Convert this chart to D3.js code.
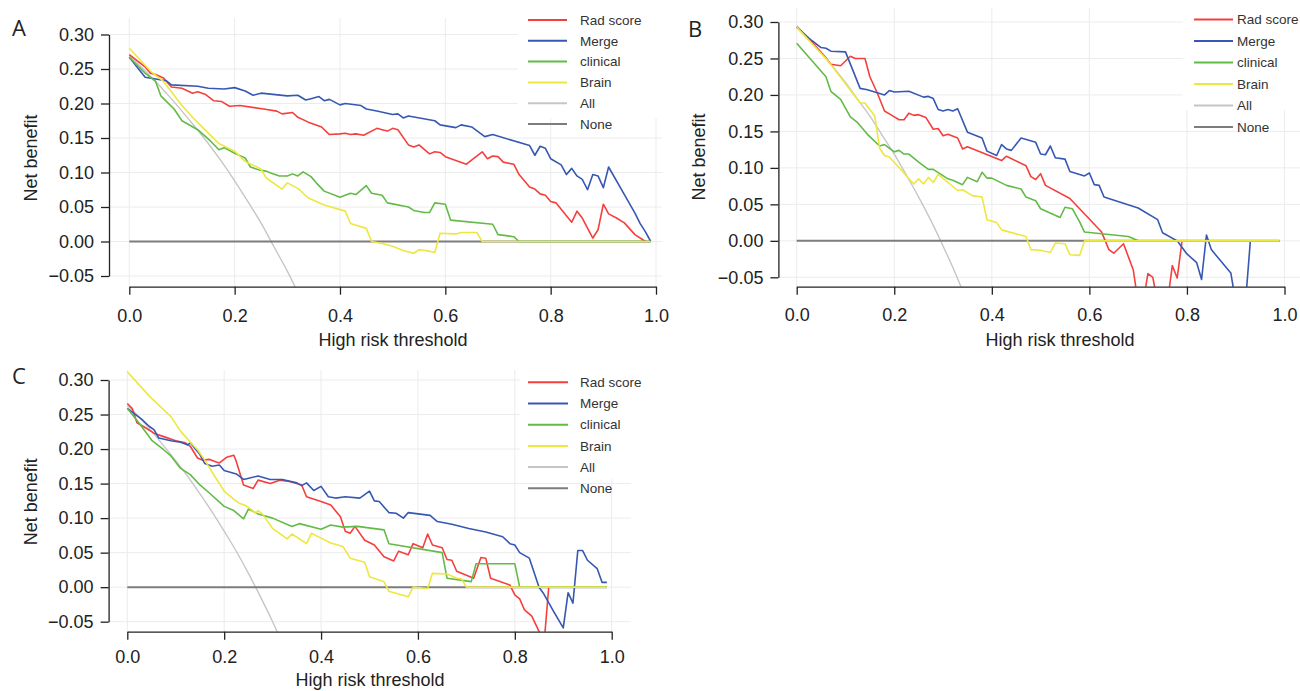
<!DOCTYPE html>
<html>
<head>
<meta charset="utf-8">
<script src="https://cdn.jsdelivr.net/npm/d3@7"></script>
<style>
  body { margin: 0; background: #fff; }
  svg { display: block; font-family: "Liberation Sans", Arial, sans-serif; }
</style>
</head>
<body>
<div id="chart"></div>
<script>
// decision curves, each point is [threshold, net benefit]

// panel A
var aRad = [[0,0.271],[0.03,0.253],[0.04,0.244],[0.05,0.242],[0.065,0.237],[0.08,0.224],[0.10,0.222],[0.12,0.215],[0.13,0.217],[0.145,0.213],[0.16,0.204],[0.175,0.203],[0.19,0.196],[0.21,0.197],[0.255,0.192],[0.28,0.189],[0.29,0.185],[0.31,0.187],[0.32,0.180],[0.34,0.173],[0.365,0.166],[0.38,0.155],[0.40,0.156],[0.41,0.157],[0.42,0.155],[0.43,0.156],[0.445,0.154],[0.47,0.164],[0.48,0.162],[0.49,0.160],[0.50,0.164],[0.51,0.162],[0.53,0.140],[0.54,0.137],[0.55,0.140],[0.57,0.127],[0.58,0.130],[0.59,0.129],[0.60,0.123],[0.64,0.112],[0.67,0.130],[0.68,0.120],[0.69,0.124],[0.70,0.123],[0.71,0.115],[0.73,0.112],[0.74,0.097],[0.76,0.079],[0.77,0.076],[0.78,0.069],[0.79,0.067],[0.80,0.058],[0.81,0.056],[0.84,0.028],[0.85,0.044],[0.86,0.034],[0.88,0.005],[0.89,0.017],[0.90,0.054],[0.91,0.040],[0.925,0.034],[0.94,0.027],[0.96,0.010],[0.98,0]];
var aMerge = [[0,0.267],[0.03,0.238],[0.07,0.233],[0.08,0.227],[0.13,0.225],[0.15,0.222],[0.18,0.221],[0.20,0.223],[0.22,0.218],[0.235,0.212],[0.25,0.215],[0.30,0.211],[0.32,0.212],[0.335,0.205],[0.345,0.207],[0.36,0.210],[0.37,0.204],[0.38,0.206],[0.40,0.198],[0.41,0.200],[0.44,0.197],[0.45,0.192],[0.47,0.189],[0.50,0.184],[0.51,0.185],[0.52,0.179],[0.53,0.182],[0.58,0.175],[0.59,0.169],[0.62,0.165],[0.63,0.169],[0.65,0.166],[0.675,0.152],[0.69,0.155],[0.76,0.139],[0.77,0.125],[0.78,0.138],[0.79,0.135],[0.80,0.120],[0.82,0.111],[0.83,0.097],[0.84,0.106],[0.85,0.095],[0.86,0.090],[0.87,0.075],[0.88,0.097],[0.89,0.095],[0.90,0.078],[0.91,0.108],[0.94,0.068],[0.96,0.041],[0.97,0.026],[0.98,0.014],[0.99,0]];
var aClinical = [[0,0.267],[0.03,0.244],[0.05,0.232],[0.06,0.211],[0.085,0.192],[0.10,0.175],[0.13,0.162],[0.155,0.145],[0.17,0.133],[0.18,0.136],[0.20,0.128],[0.22,0.121],[0.23,0.108],[0.245,0.104],[0.26,0.102],[0.27,0.099],[0.285,0.095],[0.30,0.095],[0.31,0.098],[0.32,0.095],[0.33,0.101],[0.345,0.094],[0.355,0.085],[0.37,0.073],[0.40,0.064],[0.42,0.070],[0.43,0.068],[0.45,0.081],[0.46,0.070],[0.48,0.067],[0.49,0.056],[0.53,0.050],[0.54,0.045],[0.56,0.042],[0.57,0.042],[0.58,0.056],[0.60,0.054],[0.61,0.031],[0.69,0.025],[0.70,0.010],[0.73,0.007],[0.74,0],[0.99,0]];
var aBrain = [[0,0.280],[0.04,0.247],[0.065,0.232],[0.10,0.197],[0.12,0.180],[0.15,0.157],[0.17,0.142],[0.20,0.131],[0.22,0.116],[0.25,0.105],[0.26,0.092],[0.29,0.076],[0.30,0.085],[0.32,0.077],[0.34,0.063],[0.37,0.053],[0.41,0.044],[0.42,0.026],[0.45,0.019],[0.46,0],[0.48,-0.003],[0.50,-0.007],[0.52,-0.013],[0.54,-0.017],[0.55,-0.012],[0.57,-0.014],[0.58,-0.016],[0.59,0.012],[0.62,0.011],[0.63,0.013],[0.66,0.013],[0.67,0],[0.99,0]];
var aAll = [[0,0.270],[0.025,0.251],[0.05,0.232],[0.075,0.211],[0.10,0.189],[0.125,0.166],[0.15,0.142],[0.175,0.116],[0.20,0.088],[0.225,0.058],[0.25,0.027],[0.275,-0.008],[0.30,-0.043],[0.325,-0.082]];

// panel B
var bRad = [[0,0.293],[0.02,0.280],[0.04,0.266],[0.06,0.251],[0.07,0.242],[0.09,0.240],[0.11,0.253],[0.12,0.250],[0.14,0.250],[0.15,0.225],[0.165,0.203],[0.18,0.178],[0.195,0.172],[0.21,0.166],[0.22,0.166],[0.23,0.175],[0.24,0.172],[0.25,0.173],[0.265,0.169],[0.28,0.153],[0.29,0.154],[0.30,0.144],[0.31,0.146],[0.33,0.141],[0.34,0.126],[0.35,0.129],[0.42,0.110],[0.43,0.116],[0.47,0.103],[0.48,0.088],[0.49,0.084],[0.50,0.092],[0.51,0.076],[0.56,0.058],[0.60,0.030],[0.625,0.012],[0.64,-0.012],[0.65,-0.017],[0.67,-0.004],[0.69,-0.040],[0.70,-0.085],[0.71,-0.085],[0.72,-0.045],[0.73,-0.050],[0.74,-0.085],[0.76,-0.085],[0.77,-0.034],[0.78,-0.051],[0.79,0]];
var bMerge = [[0,0.293],[0.03,0.275],[0.05,0.265],[0.06,0.264],[0.07,0.260],[0.10,0.259],[0.13,0.209],[0.145,0.207],[0.18,0.200],[0.19,0.206],[0.20,0.204],[0.23,0.205],[0.26,0.197],[0.27,0.198],[0.28,0.195],[0.29,0.180],[0.30,0.178],[0.31,0.180],[0.32,0.178],[0.33,0.181],[0.35,0.149],[0.38,0.141],[0.39,0.123],[0.41,0.117],[0.42,0.132],[0.43,0.126],[0.44,0.124],[0.46,0.141],[0.49,0.135],[0.50,0.119],[0.51,0.118],[0.52,0.130],[0.53,0.114],[0.55,0.112],[0.56,0.095],[0.59,0.089],[0.60,0.093],[0.61,0.077],[0.62,0.076],[0.63,0.060],[0.70,0.045],[0.74,0.029],[0.75,0.011],[0.78,0],[0.80,-0.018],[0.82,-0.030],[0.83,-0.053],[0.84,0.008],[0.85,-0.012],[0.86,-0.020],[0.89,-0.044],[0.90,-0.085],[0.92,-0.085],[0.93,0],[0.99,0]];
var bClinical = [[0,0.271],[0.06,0.225],[0.07,0.205],[0.09,0.194],[0.11,0.170],[0.125,0.162],[0.145,0.146],[0.17,0.130],[0.18,0.132],[0.20,0.122],[0.21,0.124],[0.22,0.119],[0.23,0.119],[0.25,0.108],[0.27,0.098],[0.28,0.098],[0.31,0.085],[0.32,0.083],[0.34,0.077],[0.35,0.087],[0.37,0.081],[0.38,0.094],[0.39,0.086],[0.40,0.086],[0.43,0.076],[0.46,0.071],[0.47,0.060],[0.49,0.055],[0.50,0.044],[0.54,0.032],[0.55,0.046],[0.565,0.044],[0.58,0.026],[0.59,0.012],[0.68,0.006],[0.70,0],[0.99,0]];
var bBrain = [[0,0.293],[0.065,0.246],[0.13,0.189],[0.14,0.189],[0.16,0.171],[0.17,0.127],[0.18,0.117],[0.19,0.115],[0.24,0.078],[0.25,0.085],[0.26,0.078],[0.27,0.087],[0.28,0.080],[0.29,0.091],[0.33,0.069],[0.34,0.070],[0.36,0.062],[0.38,0.060],[0.39,0.029],[0.41,0.025],[0.42,0.015],[0.47,0.006],[0.48,-0.012],[0.50,-0.013],[0.52,-0.016],[0.53,-0.003],[0.55,-0.004],[0.56,-0.019],[0.58,-0.020],[0.59,0],[0.99,0]];
var bAll = [[0,0.295],[0.025,0.277],[0.05,0.258],[0.075,0.238],[0.10,0.217],[0.125,0.194],[0.15,0.171],[0.175,0.145],[0.20,0.119],[0.225,0.090],[0.25,0.060],[0.275,0.028],[0.30,-0.007],[0.325,-0.044],[0.35,-0.085]];

// panel C
var cRad = [[0,0.266],[0.01,0.259],[0.02,0.238],[0.035,0.232],[0.055,0.223],[0.075,0.218],[0.10,0.212],[0.12,0.209],[0.13,0.204],[0.145,0.187],[0.155,0.184],[0.17,0.185],[0.185,0.181],[0.19,0.180],[0.205,0.188],[0.22,0.191],[0.225,0.182],[0.24,0.148],[0.26,0.143],[0.27,0.155],[0.295,0.150],[0.315,0.155],[0.335,0.153],[0.36,0.148],[0.37,0.131],[0.40,0.124],[0.42,0.119],[0.44,0.102],[0.45,0.081],[0.46,0.078],[0.47,0.088],[0.49,0.068],[0.51,0.061],[0.53,0.044],[0.55,0.038],[0.56,0.052],[0.58,0.047],[0.59,0.063],[0.61,0.057],[0.62,0.077],[0.63,0.061],[0.65,0.057],[0.66,0.040],[0.67,0.039],[0.68,0.023],[0.715,0.013],[0.73,0.043],[0.74,0.042],[0.75,0.013],[0.79,0.003],[0.80,-0.011],[0.81,-0.017],[0.82,-0.033],[0.835,-0.042],[0.85,-0.064],[0.86,-0.085],[0.87,0]];
var cMerge = [[0,0.259],[0.03,0.243],[0.045,0.233],[0.055,0.228],[0.065,0.216],[0.09,0.212],[0.11,0.210],[0.125,0.206],[0.13,0.209],[0.15,0.192],[0.16,0.179],[0.175,0.175],[0.19,0.177],[0.20,0.169],[0.225,0.164],[0.24,0.156],[0.27,0.161],[0.295,0.156],[0.32,0.156],[0.35,0.151],[0.36,0.147],[0.37,0.151],[0.385,0.140],[0.40,0.146],[0.415,0.131],[0.43,0.129],[0.45,0.131],[0.48,0.129],[0.50,0.139],[0.51,0.125],[0.52,0.124],[0.54,0.108],[0.555,0.107],[0.57,0.100],[0.58,0.108],[0.625,0.104],[0.64,0.095],[0.67,0.091],[0.705,0.085],[0.74,0.080],[0.775,0.073],[0.79,0.063],[0.80,0.061],[0.81,0.050],[0.83,0.042],[0.85,0],[0.86,-0.010],[0.88,-0.035],[0.90,-0.059],[0.91,-0.008],[0.92,-0.023],[0.93,0.053],[0.94,0.053],[0.95,0.039],[0.97,0.027],[0.98,0.007],[0.99,0.007]];
var cClinical = [[0,0.259],[0.025,0.237],[0.05,0.213],[0.075,0.199],[0.09,0.190],[0.11,0.172],[0.13,0.163],[0.15,0.148],[0.17,0.136],[0.20,0.117],[0.22,0.111],[0.24,0.099],[0.25,0.113],[0.27,0.106],[0.30,0.100],[0.34,0.088],[0.355,0.092],[0.40,0.084],[0.42,0.090],[0.445,0.087],[0.475,0.088],[0.53,0.083],[0.54,0.063],[0.65,0.050],[0.66,0.013],[0.71,0.008],[0.72,0.034],[0.80,0.034],[0.81,0],[0.99,0]];
var cBrain = [[0,0.312],[0.045,0.277],[0.09,0.247],[0.11,0.226],[0.13,0.210],[0.145,0.199],[0.16,0.184],[0.18,0.161],[0.20,0.139],[0.22,0.127],[0.23,0.122],[0.245,0.118],[0.255,0.113],[0.265,0.107],[0.27,0.111],[0.28,0.105],[0.30,0.085],[0.33,0.070],[0.34,0.077],[0.37,0.063],[0.38,0.078],[0.40,0.071],[0.42,0.064],[0.445,0.059],[0.46,0.042],[0.49,0.036],[0.50,0.015],[0.53,0.008],[0.54,-0.006],[0.58,-0.014],[0.59,0],[0.62,-0.002],[0.63,0.020],[0.66,0.019],[0.68,0.013],[0.69,0.012],[0.70,0],[0.99,0]];
var cAll = [[0,0.263],[0.025,0.246],[0.05,0.226],[0.075,0.205],[0.10,0.183],[0.125,0.160],[0.15,0.135],[0.175,0.109],[0.20,0.081],[0.225,0.052],[0.25,0.020],[0.275,-0.014],[0.30,-0.050],[0.325,-0.089]];

var noneLine = [[0,0],[0.99,0]];

var legendNames = ["Rad score", "Merge", "clinical", "Brain", "All", "None"];
var legendColors = ["#f4403d", "#3658b4", "#62bb47", "#ede73f", "#c6c6c6", "#7d7d7d"];
var xTicks = [0, 0.2, 0.4, 0.6, 0.8, 1.0];
var yTicks = [-0.05, 0, 0.05, 0.10, 0.15, 0.20, 0.25, 0.30];

var svg = d3.select("#chart").append("svg")
    .attr("width", 1300)
    .attr("height", 691);

var panels = [
  {id: "A", curves: [aRad, aMerge, aClinical, aBrain, aAll],
   x0: 129.3, x1: 656, y30: 34.5, yNeg: 276, axisX: 109, axisY: 286.7, top: 18, right: 662,
   tickPad: 14.5, letter: [12, 36.4], ylab: [37, 158], xlab: [393, 346],
   legend: {x: 518, y: 0, w: 144, h: 118, lx0: 528, lx1: 567, tx: 580, ty: 20, dy: 20.8}},
  {id: "B", curves: [bRad, bMerge, bClinical, bBrain, bAll],
   x0: 796.7, x1: 1284.5, y30: 22, yNeg: 277.3, axisX: 778.4, axisY: 286.7, top: 8, right: 1300,
   tickPad: 14, letter: [688, 37], ylab: [705, 157], xlab: [1060, 346],
   legend: {x: 1183, y: 0, w: 117, h: 110, lx0: 1194, lx1: 1233, tx: 1237, ty: 19.5, dy: 21.5}},
  {id: "C", curves: [cRad, cMerge, cClinical, cBrain, cAll],
   x0: 127.3, x1: 611.7, y30: 380, yNeg: 621.7, axisX: 108.6, axisY: 631.7, top: 370, right: 631,
   tickPad: 10.5, letter: [12, 384], ylab: [37, 501.7], xlab: [370, 686],
   legend: {x: 520, y: 368, w: 113, h: 111, lx0: 528, lx1: 568, tx: 580, ty: 382.3, dy: 21.2}}
];

panels.forEach(drawPanel);

function drawPanel(p) {
  var x = d3.scaleLinear().domain([0, 1]).range([p.x0, p.x1]);
  var y = d3.scaleLinear().domain([-0.05, 0.30]).range([p.yNeg, p.y30]);

  var g = svg.append("g");

  // grid
  g.selectAll(".vgrid").data(xTicks).enter().append("line")
      .attr("x1", function(d) { return x(d); })
      .attr("x2", function(d) { return x(d); })
      .attr("y1", p.top).attr("y2", p.axisY)
      .attr("stroke", "#ececec").attr("stroke-width", 1);
  g.selectAll(".hgrid").data(yTicks).enter().append("line")
      .attr("x1", p.axisX).attr("x2", p.right)
      .attr("y1", function(d) { return y(d); })
      .attr("y2", function(d) { return y(d); })
      .attr("stroke", "#ececec").attr("stroke-width", 1);

  // legend background sits over the grid
  var L = p.legend;
  g.append("rect")
      .attr("x", L.x).attr("y", L.y).attr("width", L.w).attr("height", L.h)
      .attr("fill", "#fff");

  var clipId = "clip" + p.id;
  svg.append("clipPath").attr("id", clipId)
    .append("rect")
      .attr("x", p.axisX).attr("y", p.top)
      .attr("width", p.right - p.axisX).attr("height", p.axisY - p.top);

  var plot = g.append("g").attr("clip-path", "url(#" + clipId + ")");

  var line = d3.line()
      .x(function(d) { return x(d[0]); })
      .y(function(d) { return y(d[1]); });
  var smooth = d3.line()
      .curve(d3.curveMonotoneX)
      .x(function(d) { return x(d[0]); })
      .y(function(d) { return y(d[1]); });

  // reference lines first, models on top
  plot.append("path").datum(p.curves[4])
      .attr("d", smooth).attr("fill", "none")
      .attr("stroke", legendColors[4]).attr("stroke-width", 1.4);
  plot.append("path").datum(noneLine)
      .attr("d", line).attr("fill", "none")
      .attr("stroke", legendColors[5]).attr("stroke-width", 2);

  for (var i = 0; i < 4; i++) {
    plot.append("path").datum(p.curves[i])
        .attr("d", line).attr("fill", "none")
        .attr("stroke", legendColors[i]).attr("stroke-width", 1.6)
        .attr("stroke-linejoin", "round");
  }

  // axes
  var xAxis = d3.axisBottom(x).tickValues(xTicks).tickFormat(d3.format(".1f"))
      .tickSize(8).tickSizeOuter(0).tickPadding(p.tickPad);
  var yAxis = d3.axisLeft(y).tickValues(yTicks).tickFormat(d3.format(".2f"))
      .tickSize(8).tickSizeOuter(0).tickPadding(7);

  var gx = g.append("g").attr("transform", "translate(0," + p.axisY + ")").call(xAxis);
  var gy = g.append("g").attr("transform", "translate(" + p.axisX + ",0)").call(yAxis);
  [gx, gy].forEach(function(a) {
    a.select(".domain").attr("stroke", "#222").attr("stroke-width", 1.3);
    a.selectAll(".tick line").attr("stroke", "#222").attr("stroke-width", 1.3);
    a.selectAll(".tick text").attr("fill", "#222")
        .style("font-size", "18px").style("font-family", "'Liberation Sans', Arial, sans-serif");
  });

  // titles
  g.append("text")
      .attr("x", p.xlab[0]).attr("y", p.xlab[1])
      .attr("text-anchor", "middle")
      .attr("font-size", 18).attr("fill", "#222")
      .text("High risk threshold");
  g.append("text")
      .attr("transform", "translate(" + p.ylab[0] + "," + p.ylab[1] + ") rotate(-90)")
      .attr("text-anchor", "middle")
      .attr("font-size", 18).attr("fill", "#222")
      .text("Net benefit");
  g.append("text")
      .attr("x", p.letter[0]).attr("y", p.letter[1])
      .attr("font-size", 22).attr("fill", "#222")
      .style("font-family", "'Open Sans', sans-serif")
      .text(p.id);

  // legend entries
  legendNames.forEach(function(name, k) {
    var ly = L.ty + k * L.dy;
    g.append("line")
        .attr("x1", L.lx0).attr("x2", L.lx1)
        .attr("y1", ly).attr("y2", ly)
        .attr("stroke", legendColors[k]).attr("stroke-width", 2);
    g.append("text")
        .attr("x", L.tx).attr("y", ly)
        .attr("dy", "0.35em")
        .attr("font-size", 13.5).attr("fill", "#333")
        .text(name);
  });
}
</script>
</body>
</html>
